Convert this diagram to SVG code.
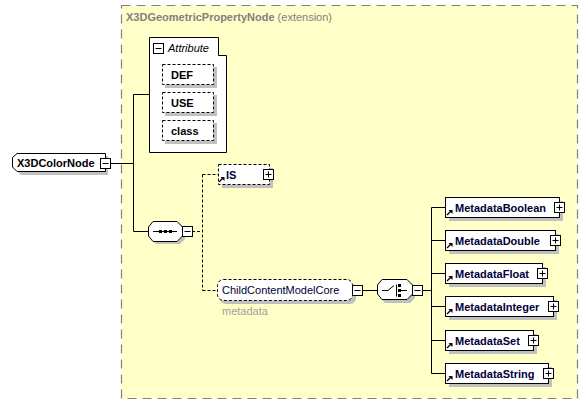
<svg xmlns="http://www.w3.org/2000/svg" width="588" height="404" viewBox="0 0 588 404">
<style>
.ln{stroke:#000;stroke-width:1;fill:none}
.dl{stroke:#000;stroke-width:1;fill:none;stroke-dasharray:3,2}
.box{fill:#fff;stroke:#000;stroke-width:1}
.dbox{fill:#fff;stroke:#000;stroke-width:1;stroke-dasharray:3,2}
.sh{fill:#c0c0c0;stroke:none}
.t{font-family:"Liberation Sans",Arial,sans-serif;font-size:11px;fill:#000}
.b{font-weight:bold}
.nv{fill:#000038}
.g{fill:#808080}
.lg{fill:#a0a0a0}
.btn{fill:#fff;stroke:#000;stroke-width:1}
</style>
<defs>
<g id="plus"><rect class="btn" x="-5" y="-5" width="10" height="10"/><path class="ln" d="M-3,0H3M0,-3V3"/></g>
<g id="minus"><rect class="btn" x="-5" y="-5" width="10" height="10"/><path class="ln" d="M-3,0H3"/></g>
<g id="arr"><path d="M0,6 L4,2" stroke="#000" stroke-width="1.3"/><path d="M1.5,1 H5.5 V5 Z" fill="#000"/></g>
</defs>

<g id="extension">
<rect x="121.5" y="5.5" width="456" height="393" fill="#ffffc8" stroke="#808080" stroke-width="1.2" stroke-dasharray="9,6"/>
<text class="t g" x="126" y="21"><tspan class="b">X3DGeometricPropertyNode</tspan> (extension)</text>
</g>

<g id="connectors">
<path class="ln" d="M110,163.5H133.5M133.5,94.5V231.5M133.5,94.5H149M133.5,231.5H148"/>
<path class="dl" d="M192,231.5H202.5M202.5,174.5V290.5M202.5,174.5H218M202.5,290.5H217"/>
<path class="ln" d="M362,290.5H377M422,290.5H431.5M431.5,207.5V373.5M431.5,207.5H445M431.5,240.5H445M431.5,273.5H445M431.5,306.5H445M431.5,340.5H445M431.5,373.5H445"/>
</g>

<g id="X3DColorNode">
<path class="sh" d="M16,161 L21,156 H108 V175 H21 L16,170 Z"/>
<path class="box" d="M12.5,157.5 L17,153.5 H105.5 V171.5 H17 L12.5,167 Z"/>
<text class="t b" x="17" y="167" font-size="11.5">X3DColorNode</text>
<use href="#minus" x="105.5" y="163.5"/>
</g>

<g id="attributes">
<path class="box" d="M149.5,37.5 H218.5 V55.5 H226.5 V152.5 H149.5 Z"/>
<use href="#minus" x="158.5" y="48.5"/>
<text class="t" x="168" y="52" font-style="italic">Attribute</text>
</g>
<g id="DEF">
<rect class="sh" x="165" y="67" width="52" height="21"/>
<rect class="dbox" x="162.5" y="64.5" width="51" height="20"/>
<text class="t b" x="171" y="79">DEF</text>
</g>
<g id="USE">
<rect class="sh" x="165" y="95" width="52" height="21"/>
<rect class="dbox" x="162.5" y="92.5" width="51" height="20"/>
<text class="t b" x="171" y="107">USE</text>
</g>
<g id="class">
<rect class="sh" x="165" y="123" width="52" height="21"/>
<rect class="dbox" x="162.5" y="120.5" width="51" height="20"/>
<text class="t b" x="171" y="135">class</text>
</g>

<g id="sequence">
<path class="sh" d="M156,224 H180 L185,229 V239 L180,244 H156 L151,239 V229 Z"/>
<path class="box" d="M153,221.5 H177 L182.5,227 V236 L177,241.5 H153 L148.5,236 V227 Z"/>
<path class="ln" d="M153,231.5H177"/>
<rect x="159" y="230" width="3" height="3" fill="#000"/>
<rect x="164" y="230" width="3" height="3" fill="#000"/>
<rect x="169" y="230" width="3" height="3" fill="#000"/>
<use href="#minus" x="187.5" y="231.5"/>
</g>

<g id="IS">
<rect class="sh" x="222" y="168" width="51" height="20"/>
<rect class="dbox" x="218.5" y="164.5" width="51" height="20"/>
<use href="#arr" x="219" y="176"/>
<text class="t b nv" x="226" y="179">IS</text>
<use href="#plus" x="268.5" y="174.5"/>
</g>

<g id="ChildContentModelCore">
<rect class="sh" x="220" y="283" width="136" height="21" rx="6"/>
<rect class="dbox" x="217.5" y="279.5" width="135" height="21" rx="6"/>
<text class="t nv" x="222" y="294" font-size="11.7">ChildContentModelCore</text>
<use href="#minus" x="357.5" y="290.5"/>
<text class="t lg" x="222" y="315" font-size="9">metadata</text>
</g>

<g id="choice">
<path class="sh" d="M385,283 H410 L415,288 V298 L410,303 H385 L380,298 V288 Z"/>
<path class="box" d="M382,279.5 H407 L412.5,285 V294 L407,299.5 H382 L377.5,294 V285 Z"/>
<path class="ln" d="M382,290.5H388L394,285.5M396.5,284.5V296.5M401,290.5H407"/>
<rect x="398" y="284" width="3" height="3" fill="#000"/>
<rect x="398" y="289" width="3" height="3" fill="#000"/>
<rect x="398" y="294" width="3" height="3" fill="#000"/>
<use href="#minus" x="417.5" y="290.5"/>
</g>

<g id="MetadataBoolean">
<rect class="sh" x="449" y="201" width="114" height="20"/>
<rect class="box" x="445.5" y="197.5" width="114" height="20"/>
<use href="#arr" x="447" y="209"/>
<text class="t b nv" x="455" y="212">MetadataBoolean</text>
<use href="#plus" x="559.5" y="207.5"/>
</g>
<g id="MetadataDouble">
<rect class="sh" x="449" y="234" width="110" height="20"/>
<rect class="box" x="445.5" y="230.5" width="110" height="20"/>
<use href="#arr" x="447" y="242"/>
<text class="t b nv" x="455" y="245">MetadataDouble</text>
<use href="#plus" x="555.5" y="240.5"/>
</g>
<g id="MetadataFloat">
<rect class="sh" x="449" y="267" width="97" height="20"/>
<rect class="box" x="445.5" y="263.5" width="97" height="20"/>
<use href="#arr" x="447" y="275"/>
<text class="t b nv" x="455" y="278">MetadataFloat</text>
<use href="#plus" x="542.5" y="273.5"/>
</g>
<g id="MetadataInteger">
<rect class="sh" x="449" y="300" width="108" height="20"/>
<rect class="box" x="445.5" y="296.5" width="108" height="20"/>
<use href="#arr" x="447" y="308"/>
<text class="t b nv" x="455" y="311">MetadataInteger</text>
<use href="#plus" x="553.5" y="306.5"/>
</g>
<g id="MetadataSet">
<rect class="sh" x="449" y="334" width="88" height="20"/>
<rect class="box" x="445.5" y="330.5" width="88" height="20"/>
<use href="#arr" x="447" y="342"/>
<text class="t b nv" x="455" y="345">MetadataSet</text>
<use href="#plus" x="533.5" y="340.5"/>
</g>
<g id="MetadataString">
<rect class="sh" x="449" y="367" width="103" height="20"/>
<rect class="box" x="445.5" y="363.5" width="103" height="20"/>
<use href="#arr" x="447" y="375"/>
<text class="t b nv" x="455" y="378">MetadataString</text>
<use href="#plus" x="548.5" y="373.5"/>
</g>
</svg>
